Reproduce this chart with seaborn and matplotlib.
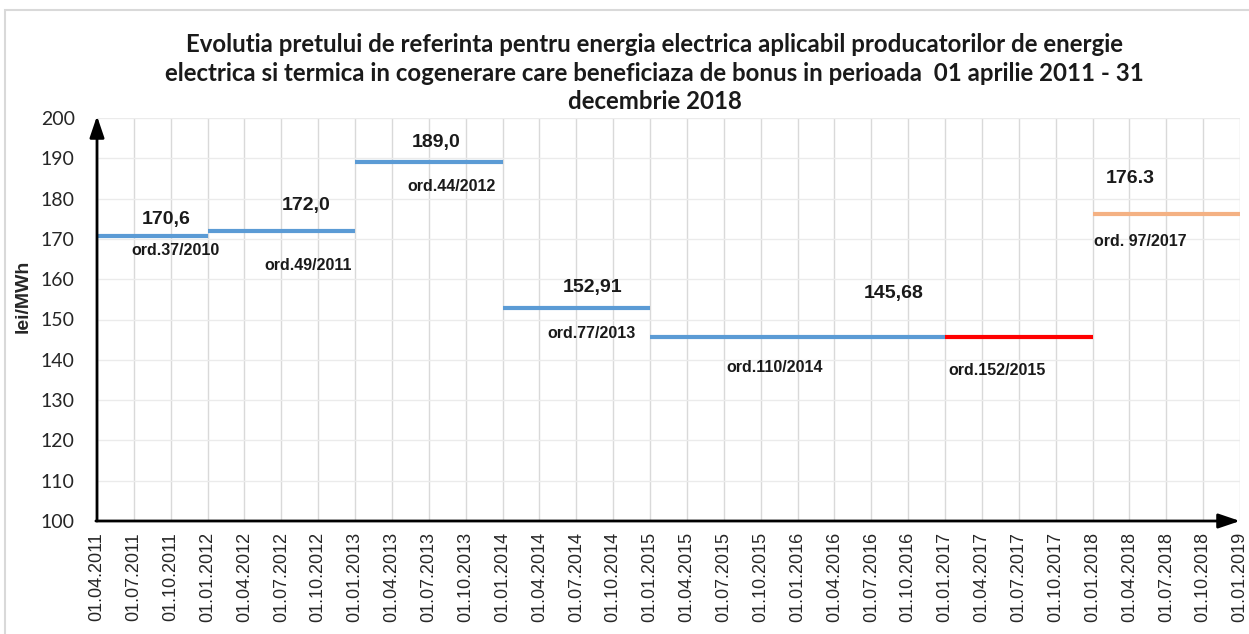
#!/usr/bin/env python3
# -*- coding: utf-8 -*-

"""
Evolutia pretului de referinta pentru energia electrica (cogenerare, bonus)
in perioada 01.04.2011 - 31.12.2018.
"""

import pandas as pd
import matplotlib.pyplot as plt
import seaborn as sns
from matplotlib.patches import Rectangle

# Etichete axa X (trimestriale)
tick_labels = [d.strftime("%d.%m.%Y") for d in pd.date_range("2011-04-01", "2019-01-01", freq="QS")]

# Segmente de pret: inceput, sfarsit, valoare, ordin
seg_start = ["01.04.2011", "01.01.2012", "01.01.2013", "01.01.2014", "01.01.2015", "01.01.2017", "01.01.2018"]
seg_end = ["01.01.2012", "01.01.2013", "01.01.2014", "01.01.2015", "01.01.2017", "01.01.2018", "01.01.2019"]
prices = [170.6, 172.0, 189.0, 152.91, 145.68, 145.68, 176.3]
orders = ["ord.37/2010", "ord.49/2011", "ord.44/2012", "ord.77/2013", "ord.110/2014", "ord.152/2015", "ord. 97/2017"]
price_labels = ["170,6", "172,0", "189,0", "152,91", "145,68", "", "176.3"]
seg_colors = ["#5B9BD5", "#5B9BD5", "#5B9BD5", "#5B9BD5", "#5B9BD5", "#FF0000", "#F4B183"]

# Pozitii etichete (x in trimestre, y in lei/MWh)
price_pos = [(1.89, 174.7), (5.67, 178.3), (9.19, 193.8), (13.44, 157.9), (21.62, 156.5), None, (28.02, 184.9)]
order_pos = [(2.14, 167.0), (5.72, 163.4), (9.61, 182.9), (13.40, 146.5), (18.39, 138.0), (24.40, 137.3), (28.29, 169.4)]

title = ("Evolutia pretului de referinta pentru energia electrica aplicabil producatorilor de energie\n"
         "electrica si termica in cogenerare care beneficiaza de bonus in perioada  01 aprilie 2011 - 31\n"
         "decembrie 2018")


def build_frame():
    """Construieste tabelul lung pentru seaborn"""
    rows = []
    for i, (s, e, p) in enumerate(zip(seg_start, seg_end, prices)):
        rows.append({"segment": i, "x": tick_labels.index(s), "pret": p})
        rows.append({"segment": i, "x": tick_labels.index(e), "pret": p})
    return pd.DataFrame(rows)


def draw_chart():
    sns.set_theme(style="white")
    plt.rcParams["font.family"] = ["Liberation Sans", "DejaVu Sans"]

    fig = plt.figure(figsize=(12.49, 6.34), dpi=100)
    ax = fig.add_axes([97 / 1249, 1 - 521 / 634, 1143 / 1249, 403 / 634])

    df = build_frame()
    sns.lineplot(data=df, x="x", y="pret", hue="segment", palette=dict(enumerate(seg_colors)),
                 estimator=None, legend=False, linewidth=3, solid_capstyle="butt", ax=ax)

    ax.set_xlim(0, len(tick_labels) - 1)
    ax.set_ylim(100, 200)
    ax.set_xticks(range(len(tick_labels)))
    ax.set_xticklabels(tick_labels, rotation=90, fontsize=13, color="#262626")
    ax.set_yticks(range(100, 201, 10))
    for lab in ax.get_yticklabels():
        lab.set_family(["Lato", "DejaVu Sans"])
        lab.set_fontsize(14)
        lab.set_color("#262626")
    ax.tick_params(axis="x", length=0, pad=8)
    ax.tick_params(axis="y", length=0, pad=16)

    # Grila
    ax.grid(axis="x", color="#D9D9D9", linewidth=1)
    ax.grid(axis="y", color="#EBEBEB", linewidth=1)
    for sp in ax.spines.values():
        sp.set_visible(False)

    # Axe cu sageti
    arrow = dict(arrowstyle="-|>,head_length=0.65,head_width=0.22", color="black", lw=2,
                 mutation_scale=20, shrinkA=0, shrinkB=0)
    ax.annotate("", xy=(0, 200.5), xytext=(0, 100), arrowprops=arrow, annotation_clip=False)
    ax.annotate("", xy=(31, 100), xytext=(-0.03, 100), arrowprops=arrow, annotation_clip=False)

    ax.set_xlabel("")
    ax.set_ylabel("lei/MWh", fontsize=14, fontweight="bold")
    ax.yaxis.set_label_coords(-0.057, 0.558)

    # Etichete pret si ordin
    for lab, pos in zip(price_labels, price_pos):
        if pos is None:
            continue
        ax.text(pos[0], pos[1], lab, ha="center", va="center", fontsize=14, fontweight="bold", color="#1a1a1a")
    for lab, pos in zip(orders, order_pos):
        ax.text(pos[0], pos[1], lab, ha="center", va="center", fontsize=11.5, fontweight="bold", color="#1a1a1a")

    fig.text(0.524, 1 - 33 / 634, title, ha="center", va="top", fontsize=17.3, fontweight="bold",
             family=["Lato", "DejaVu Sans"], linespacing=1.3, color="#1a1a1a")

    # Chenar exterior
    fig.patches.append(Rectangle((5 / 1249, -0.02), 1.0, 1 - 10 / 634 + 0.02, transform=fig.transFigure,
                                 fill=False, edgecolor="#D9D9D9", linewidth=1.5))

    fig.savefig("out.png", dpi=100)


if __name__ == "__main__":
    draw_chart()
